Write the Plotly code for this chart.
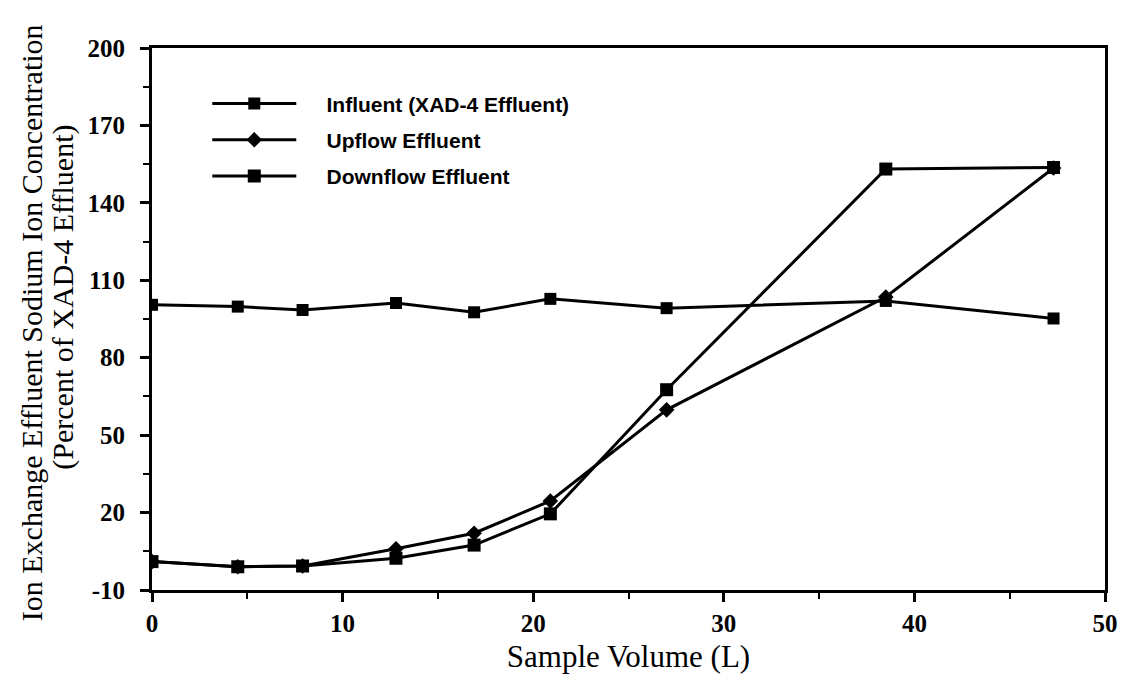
import plotly.graph_objects as go

sample_volume = [0, 4.5, 7.9, 12.8, 16.9, 20.9, 27.0, 38.5, 47.3]
influent = [100.5, 99.8, 98.5, 101.2, 97.6, 102.8, 99.2, 102.0, 95.2]
upflow = [1.0, -1.0, -0.7, 6.0, 12.0, 24.5, 59.8, 103.5, 153.5]
downflow = [1.0, -1.0, -0.7, 2.3, 7.4, 19.5, 67.6, 153.1, 153.7]

y_ticks = [-10, 20, 50, 80, 110, 140, 170, 200]
x_ticks = [0, 10, 20, 30, 40, 50]

series = [
    ("Influent (XAD-4 Effluent)", influent, "square", 12),
    ("Upflow Effluent", upflow, "diamond", 12),
    ("Downflow Effluent", downflow, "square", 13),
]

fig = go.Figure()
for i, (name, vals, sym, size) in enumerate(series):
    fig.add_trace(go.Scatter(
        x=sample_volume, y=vals, name="\u2002\u2002\u2009" + name, mode="lines+markers",
        line=dict(color="black", width=3),
        marker=dict(symbol=sym, size=size, color="black"),
        legendgroup=f"g{i}",
    ))

serif = "Liberation Serif, Times New Roman, serif"
fig.update_layout(
    width=1130, height=683,
    margin=dict(l=152, r=20, t=48, b=93),
    paper_bgcolor="white", plot_bgcolor="white",
    showlegend=True,
    legend=dict(
        x=0.058, y=0.935, xanchor="left", yanchor="top",
        font=dict(family="Liberation Sans Narrow, Liberation Sans, Arial, sans-serif", size=21, color="black", weight="bold"),
        itemwidth=84, tracegroupgap=6, bgcolor="rgba(0,0,0,0)",
    ),
    xaxis=dict(
        range=[0, 50], tickvals=x_ticks, ticktext=[str(v) for v in x_ticks],
        showgrid=False, zeroline=False,
        showline=True, linecolor="black", linewidth=3, mirror=True,
        ticks="outside", ticklen=9, tickwidth=3, tickcolor="black",
        minor=dict(dtick=5, tick0=0, ticks="outside", ticklen=6, tickwidth=2, tickcolor="black"),
        tickfont=dict(family=serif, size=25, color="black", weight="bold"),
        title=dict(text="Sample Volume (L)", font=dict(family=serif, size=31, color="black"), standoff=10),
    ),
    yaxis=dict(
        range=[-10, 200], tickvals=y_ticks, ticktext=[str(v) for v in y_ticks],
        showgrid=False, zeroline=False,
        showline=True, linecolor="black", linewidth=3, mirror=True,
        ticks="outside", ticklen=9, tickwidth=3, tickcolor="black",
        minor=dict(dtick=15, tick0=-10, ticks="outside", ticklen=6, tickwidth=2, tickcolor="black"),
        tickfont=dict(family=serif, size=25, color="black", weight="bold"),
        ticklabelstandoff=10,
    ),
    annotations=[
        dict(text="Ion Exchange Effluent Sodium Ion Concentration", xref="paper", yref="paper",
             x=-0.127, y=0.494, xanchor="center", yanchor="middle", textangle=-90, showarrow=False,
             font=dict(family=serif, size=30, color="black")),
        dict(text="(Percent of XAD-4 Effluent)", xref="paper", yref="paper",
             x=-0.093, y=0.54, xanchor="center", yanchor="middle", textangle=-90, showarrow=False,
             font=dict(family=serif, size=30, color="black")),
    ],
)

fig.write_html("out.html")
